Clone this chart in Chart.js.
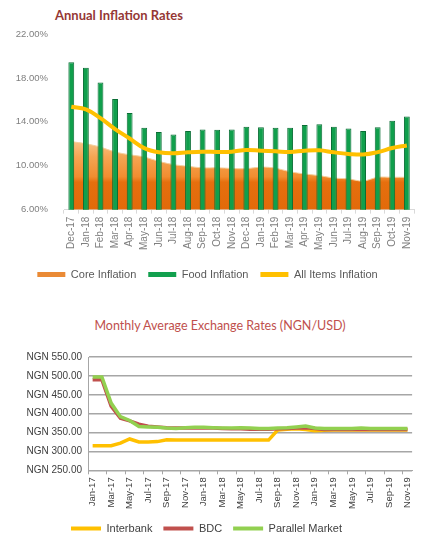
<!DOCTYPE html>
<html>
<head>
<meta charset="utf-8">
<script src="https://cdn.jsdelivr.net/npm/chart.js@4"></script>
<style>
  body { margin: 0; width: 422px; height: 544px; background: #fff; position: relative; overflow: hidden; font-family: Lato, sans-serif; }
  #t1 { position: absolute; left: 55px; top: 7px; font-weight: bold; font-size: 13px; color: #953735; }
  #t2 { position: absolute; left: 0; width: 440px; text-align: center; top: 318px; font-size: 12.5px; color: #C0504D; }
  #w1 { position: absolute; left: 0; top: 0; width: 422px; height: 290px; }
  #w2 { position: absolute; left: 0; top: 300px; width: 422px; height: 244px; }
</style>
</head>
<body>
<div id="t1">Annual Inflation Rates</div>
<div id="w1"><canvas id="c1"></canvas></div>
<div id="t2">Monthly Average Exchange Rates (NGN/USD)</div>
<div id="w2"><canvas id="c2"></canvas></div>
<script>
// inflation data, Dec-17 .. Nov-19 (%)
const months = ['Dec-17','Jan-18','Feb-18','Mar-18','Apr-18','May-18','Jun-18','Jul-18','Aug-18','Sep-18','Oct-18','Nov-18',
  'Dec-18','Jan-19','Feb-19','Mar-19','Apr-19','May-19','Jun-19','Jul-19','Aug-19','Sep-19','Oct-19','Nov-19'];
const coreInflation = [12.2, 12.0, 11.7, 11.25, 11.0, 10.8, 10.4, 10.1, 9.95, 9.8, 9.82, 9.75,
  9.73, 9.88, 9.78, 9.45, 9.25, 9.1, 8.88, 8.8, 8.6, 8.95, 8.95, 8.95];
const foodInflation = [19.42, 18.92, 17.59, 16.08, 14.80, 13.45, 13.08, 12.85, 13.16, 13.31, 13.28, 13.30,
  13.56, 13.51, 13.47, 13.45, 13.70, 13.79, 13.56, 13.39, 13.17, 13.51, 14.09, 14.48];
const allItems = [15.37, 15.13, 14.33, 13.34, 12.48, 11.61, 11.23, 11.14, 11.23, 11.28, 11.26, 11.28,
  11.44, 11.37, 11.31, 11.25, 11.37, 11.40, 11.22, 11.08, 11.02, 11.24, 11.61, 11.85];

// exchange rates, Jan-17 .. Nov-19 (NGN per USD)
const fxMonths = ['Jan-17','Feb-17','Mar-17','Apr-17','May-17','Jun-17','Jul-17','Aug-17','Sep-17','Oct-17','Nov-17','Dec-17',
  'Jan-18','Feb-18','Mar-18','Apr-18','May-18','Jun-18','Jul-18','Aug-18','Sep-18','Oct-18','Nov-18','Dec-18',
  'Jan-19','Feb-19','Mar-19','Apr-19','May-19','Jun-19','Jul-19','Aug-19','Sep-19','Oct-19','Nov-19'];
const interbank = [315, 315, 315, 322, 333, 325, 325, 326, 331, 330, 330, 330,
  330, 330, 330, 330, 330, 330, 330, 330, 357, 359, 360, 358, 355, 356, 357, 357, 357, 357, 357, 357, 357, 357, 357];
const bdc = [490, 490, 420, 388, 381, 372, 367, 365, 363, 362, 362, 362,
  362, 362, 361, 360, 360, 359, 359, 359, 360, 361, 362, 363, 361, 358, 358, 358, 358, 358, 358, 358, 358, 358, 358];
const parallel = [497, 497, 428, 392, 382, 366, 365, 364, 362, 361, 363, 364,
  364, 363, 362, 362, 363, 362, 361, 361, 362, 363, 365, 367, 362, 361, 361, 361, 361, 362, 361, 361, 361, 361, 361];

function coreFill(ctx) {
  const ch = ctx.chart, a = ch.chartArea;
  if (!a) return '#ec8a30';
  const y = ch.scales.y;
  const g = ch.ctx.createLinearGradient(0, a.top, 0, a.bottom);
  const st = v => Math.min(1, Math.max(0, (y.getPixelForValue(v) - a.top) / (a.bottom - a.top)));
  g.addColorStop(0, '#fbd6a6');
  g.addColorStop(st(12.3), '#f8c48a');
  g.addColorStop(st(10.8), '#f5a553');
  g.addColorStop(st(9.0), '#f28d30');
  g.addColorStop(st(8.5), '#e66f0e');
  g.addColorStop(1, '#e26a0a');
  return g;
}

function flatLegend(chart) {
  return Chart.defaults.plugins.legend.labels.generateLabels(chart).map(l => {
    const ds = chart.data.datasets[l.datasetIndex];
    l.fillStyle = ds.legendColor;
    l.lineWidth = 0;
    return l;
  });
}
const byIndex = (a, b) => a.datasetIndex - b.datasetIndex;

new Chart(document.getElementById('c1'), {
  type: 'bar',
  data: {
    labels: months,
    datasets: [{
      type: 'line',
      label: 'Core Inflation',
      data: coreInflation,
      fill: 'start',
      backgroundColor: coreFill,
      borderColor: '#f6cf9c',
      borderWidth: 1,
      pointRadius: 0,
      tension: 0.3,
      order: 3,
      legendColor: '#ea8a35'
    }, {
      label: 'Food Inflation',
      data: foodInflation,
      backgroundColor: '#109f4c',
      borderColor: '#0a6e35',
      borderWidth: 1,
      barPercentage: 0.4,
      categoryPercentage: 1,
      order: 2,
      legendColor: '#12a04e'
    }, {
      type: 'line',
      label: 'All Items Inflation',
      data: allItems,
      borderColor: '#ffc000',
      borderWidth: 4,
      pointRadius: 0,
      tension: 0.4,
      fill: false,
      order: 1,
      legendColor: '#ffc000'
    }]
  },
  options: {
    responsive: true,
    maintainAspectRatio: false,
    animation: false,
    layout: { padding: { top: 34, right: 7 } },
    plugins: {
      tooltip: { enabled: false },
      legend: {
        position: 'bottom',
        labels: { boxWidth: 28, boxHeight: 5, font: { size: 11 }, color: '#595959', padding: 12, generateLabels: flatLegend, sort: byIndex }
      }
    },
    scales: {
      y: {
        min: 6, max: 22,
        ticks: { stepSize: 4, font: { size: 9.5 }, color: '#7f7f7f', padding: 8, callback: v => v.toFixed(2) + '%' },
        grid: { display: false },
        border: { display: false },
        afterFit: s => { s.width = 64; }
      },
      x: {
        ticks: { minRotation: 90, maxRotation: 90, autoSkip: false, font: { size: 10 }, color: '#7f7f7f' },
        grid: { drawOnChartArea: false, tickLength: 4, color: '#d9d9d9' },
        border: { color: '#d9d9d9' },
        afterFit: s => { s.height += 4; }
      }
    }
  }
});

new Chart(document.getElementById('c2'), {
  type: 'line',
  data: {
    labels: fxMonths,
    datasets: [{
      label: 'Interbank', data: interbank, borderColor: '#ffc000', borderWidth: 3.5, order: 3, legendColor: '#ffc000'
    }, {
      label: 'BDC', data: bdc, borderColor: '#c0504d', borderWidth: 3.5, order: 2, legendColor: '#c0504d'
    }, {
      label: 'Parallel Market', data: parallel, borderColor: '#92d050', borderWidth: 3.5, order: 1, legendColor: '#92d050'
    }]
  },
  options: {
    responsive: true,
    maintainAspectRatio: false,
    animation: false,
    elements: { point: { radius: 0 }, line: { tension: 0 } },
    layout: { padding: { top: 57, right: 9 } },
    plugins: {
      tooltip: { enabled: false },
      legend: {
        position: 'bottom',
        labels: { boxWidth: 30, boxHeight: 4, font: { size: 11 }, color: '#404040', padding: 11, generateLabels: flatLegend, sort: byIndex }
      }
    },
    scales: {
      y: {
        min: 250, max: 550,
        ticks: { stepSize: 50, font: { size: 10 }, color: '#404040', padding: 6, callback: v => 'NGN ' + v.toFixed(2) },
        grid: { color: '#a6a6a6', lineWidth: 1.5, drawTicks: false },
        border: { color: '#a6a6a6' },
        afterFit: s => { s.width = 88; }
      },
      x: {
        offset: true,
        ticks: {
          minRotation: 90, maxRotation: 90, autoSkip: false, font: { size: 9.5 }, color: '#404040',
          callback: (v, i) => i % 2 === 0 ? fxMonths[i] : ''
        },
        grid: {
          drawOnChartArea: false, offset: true, tickLength: 4,
          color: c => c.index % 2 === 0 ? '#a6a6a6' : 'rgba(0,0,0,0)'
        },
        border: { color: '#a6a6a6' }
      }
    }
  }
});
</script>
</body>
</html>
